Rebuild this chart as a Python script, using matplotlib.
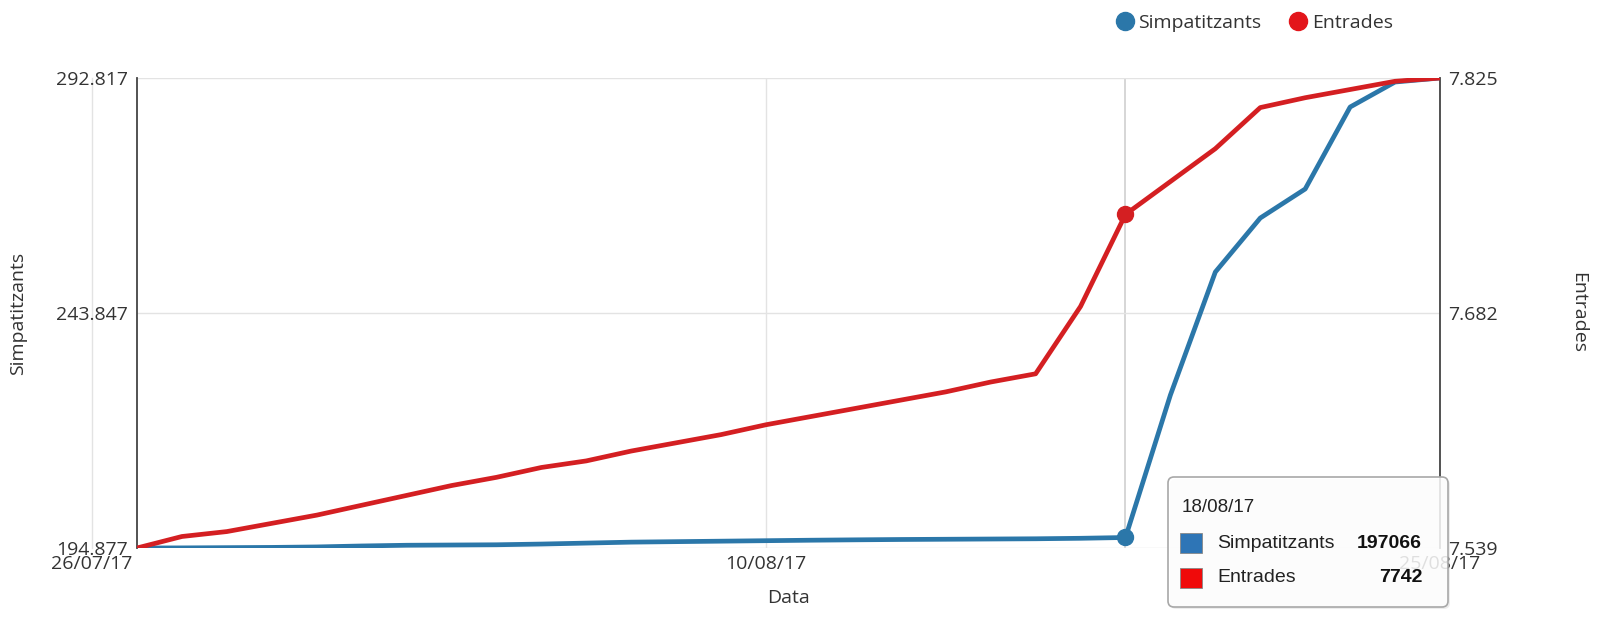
import matplotlib.pyplot as plt
import matplotlib.dates as mdates
from matplotlib.lines import Line2D
from matplotlib.patches import FancyBboxPatch, Rectangle
from matplotlib.transforms import IdentityTransform
from matplotlib.ticker import FuncFormatter
import pandas as pd

# dades
dates = ['27/07/17', '28/07/17', '29/07/17', '30/07/17', '31/07/17',
         '01/08/17', '02/08/17', '03/08/17', '04/08/17', '05/08/17',
         '06/08/17', '07/08/17', '08/08/17', '09/08/17', '10/08/17',
         '11/08/17', '12/08/17', '13/08/17', '14/08/17', '15/08/17',
         '16/08/17', '17/08/17', '18/08/17', '19/08/17', '20/08/17',
         '21/08/17', '22/08/17', '23/08/17', '24/08/17', '25/08/17']
simpatitzants = [194877, 194900, 194950, 195000, 195100, 195300, 195450, 195500,
                 195550, 195700, 195900, 196100, 196200, 196300, 196400, 196500,
                 196580, 196650, 196700, 196750, 196800, 196900, 197066, 226760,
                 252390, 263640, 269690, 286770, 291980, 292817]
entrades = [7539, 7546, 7549, 7554, 7559, 7565, 7571, 7577, 7582, 7588,
            7592, 7598, 7603, 7608, 7614, 7619, 7624, 7629, 7634, 7640,
            7645, 7686, 7742, 7762, 7782, 7807, 7813, 7818, 7823, 7825]

s_ticks = [194877, 243847, 292817]
e_ticks = [7539, 7682, 7825]
x_ticks = ['26/07/17', '10/08/17', '25/08/17']
hover = '18/08/17'

plt.rcParams['font.family'] = ['Open Sans', 'DejaVu Sans']

W, H = 1600, 626
blue = '#2b77a9'
red = '#d41f22'
grid = '#e3e3e3'
txt = '#333333'

fig = plt.figure(figsize=(W / 100, H / 100), dpi=100)
ax = fig.add_axes([137 / W, 1 - 548 / H, 1303 / W, 470 / H])
ax2 = ax.twinx()

x = mdates.date2num(pd.to_datetime(dates, format='%d/%m/%y').to_pydatetime())
xt = mdates.date2num(pd.to_datetime(x_ticks, format='%d/%m/%y').to_pydatetime())
i = dates.index(hover)

ax.plot(x, simpatitzants, color=blue, lw=3.4, solid_joinstyle='round', zorder=3)
ax.plot(x[i], simpatitzants[i], 'o', color=blue, ms=11.5, zorder=4, clip_on=False)
ax2.plot(x, entrades, color=red, lw=3.4, solid_joinstyle='round', zorder=3)
ax2.plot(x[i], entrades[i], 'o', color=red, ms=11.5, zorder=4, clip_on=False)

ax.set_xlim(x[0], x[-1])
ax.set_ylim(s_ticks[0], s_ticks[-1])
ax2.set_ylim(e_ticks[0], e_ticks[-1])
ax.set_yticks(s_ticks)
ax2.set_yticks(e_ticks)
fmt = FuncFormatter(lambda v, p: f'{v:,.0f}'.replace(',', '.'))
ax.yaxis.set_major_formatter(fmt)
ax2.yaxis.set_major_formatter(fmt)
ax.set_xticks(xt[1:])
ax.set_xticklabels(x_ticks[1:])

ax.grid(True, color=grid, lw=1, zorder=0)
ax.axvline(x[i], color='#cfcfcf', lw=1.2, zorder=1)
# primera etiqueta de data, fora del rang
ax.axvline(xt[0], color=grid, lw=1, clip_on=False, zorder=0)
ax.annotate(x_ticks[0], (xt[0], 0), xycoords=ax.get_xaxis_transform(),
            xytext=(0, -5), textcoords='offset points', ha='center', va='top',
            fontsize=14, color=txt, annotation_clip=False)

ax.tick_params(axis='x', length=0, pad=5, labelsize=14, labelcolor=txt)
ax.tick_params(axis='y', length=0, pad=6.5, labelsize=14, labelcolor=txt)
ax2.tick_params(axis='y', length=0, pad=6, labelsize=14, labelcolor=txt)

for s in ['top', 'bottom', 'right']:
    ax.spines[s].set_visible(False)
for s in ['top', 'bottom', 'left']:
    ax2.spines[s].set_visible(False)
ax.spines['left'].set_color('#444444')
ax.spines['left'].set_linewidth(1.3)
ax2.spines['right'].set_color('#444444')
ax2.spines['right'].set_linewidth(1.3)

ax.set_xlabel('Data', fontsize=14, color=txt, va='center')
ax.xaxis.set_label_coords(0.5, (548 - 598) / 470)
ax.set_ylabel('Simpatitzants', fontsize=14, color=txt, va='center')
ax.yaxis.set_label_coords((18 - 137) / 1303, 0.5)
ax2.set_ylabel('Entrades', fontsize=14, color=txt, va='center', rotation=270)
ax2.yaxis.set_label_coords((1578 - 137) / 1303, 0.5)

# llegenda
handles = [Line2D([], [], ls='none', marker='o', ms=13, color=blue),
           Line2D([], [], ls='none', marker='o', ms=13, color='#e3161b')]
fig.legend(handles, ['Simpatitzants', 'Entrades'], loc='center left',
           bbox_to_anchor=(1115 / W, 1 - 23 / H), ncol=2, frameon=False,
           borderpad=0, borderaxespad=0, handlelength=1.0, handletextpad=0.2,
           columnspacing=1.4, fontsize=14, labelcolor=txt)

# tooltip
idt = IdentityTransform()
fig.add_artist(FancyBboxPatch((1170, H - 609), 280, 130,
                              boxstyle='round,pad=0,rounding_size=6', transform=idt,
                              fc='black', ec='none', alpha=0.07))
fig.add_artist(FancyBboxPatch((1168, H - 607), 280, 130,
                              boxstyle='round,pad=0,rounding_size=6', transform=idt,
                              fc=(1, 1, 1, 0.85), ec='#a8a8a8', lw=1.2))
tf = ['Liberation Sans', 'DejaVu Sans']
fig.text(1182, H - 507, hover, transform=idt, family=tf, fontsize=13.5,
         color='#222222', va='center')
rows = [('Simpatitzants', simpatitzants[i], '#2e75b6', 543),
        ('Entrades', entrades[i], '#f00a0a', 578)]
for name, val, c, yy in rows:
    fig.add_artist(Rectangle((1180, H - yy - 10), 22, 20, transform=idt,
                             fc=c, ec='#888888', lw=0.6))
    fig.text(1217, H - yy, name, transform=idt, family=tf, fontsize=14,
             color='#222222', va='center')
    fig.text(1422, H - yy, str(val), transform=idt, family=tf, fontsize=14,
             color='#111111', va='center', ha='right', weight='bold')

fig.savefig('out.png', dpi=100)
